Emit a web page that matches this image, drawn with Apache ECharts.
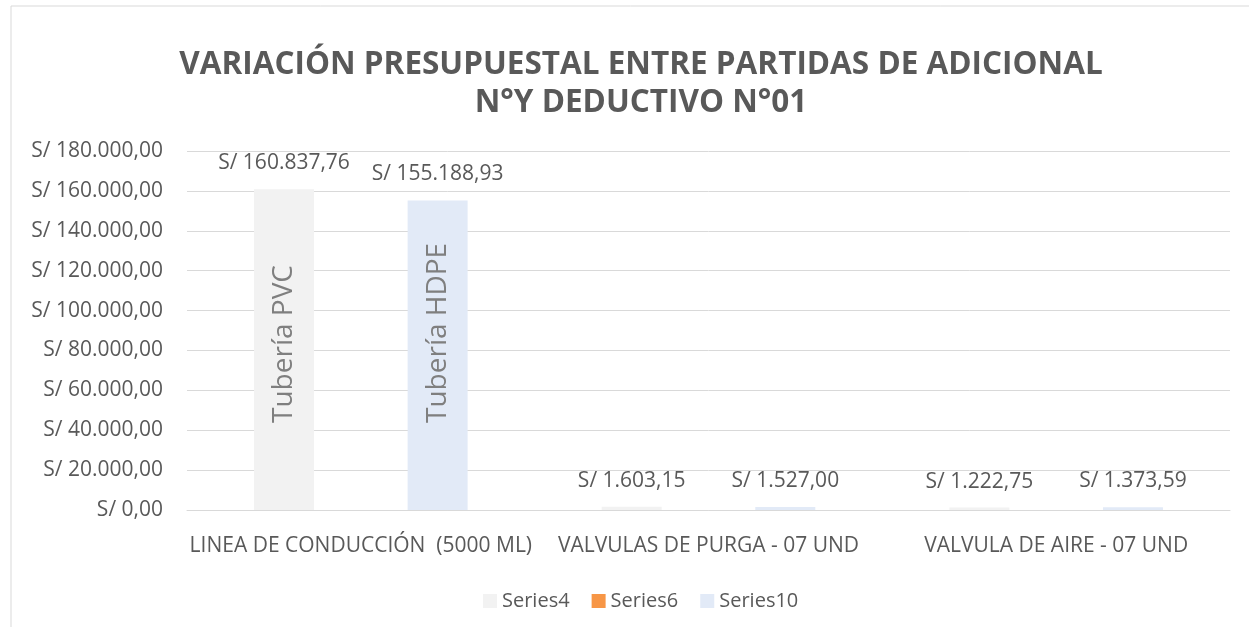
<!DOCTYPE html>
<html>
<head>
<meta charset="utf-8">
<script src="https://cdn.jsdelivr.net/npm/echarts@6/dist/echarts.min.js"></script>
<style>
html, body { margin: 0; padding: 0; background: #fff; }
#chart { width: 1249px; height: 627px; }
</style>
</head>
<body>
<div id="chart"></div>
<script>
var categories = ['LINEA DE CONDUCCIÓN  (5000 ML)', 'VALVULAS DE PURGA - 07 UND', 'VALVULA DE AIRE - 07 UND'];
var series4 = [160837.76, 1603.15, 1222.75];
var series6 = [0, 0, 0];
var series10 = [155188.93, 1527.00, 1373.59];
var insideLabels4 = ['Tubería PVC', '', ''];
var insideLabels10 = ['Tubería HDPE', '', ''];

var textColor = '#595959';
var font = '"Open Sans", sans-serif';

// S/ 160.837,76
function soles(v) {
	var parts = Number(v).toFixed(2).split('.');
	var ent = parts[0].replace(/\B(?=(\d{3})+(?!\d))/g, '.');
	return 'S/ ' + ent + ',' + parts[1];
}

var valueLabel = {
	show: true,
	position: 'top',
	distance: 15,
	color: textColor,
	fontFamily: font,
	fontSize: 21,
	lineHeight: 22,
	formatter: function (p) { return soles(p.value); }
};

function insideLabel(names) {
	return {
		show: true,
		position: 'insideBottom',
		distance: 87,
		rotate: 90,
		align: 'left',
		verticalAlign: 'middle',
		color: '#7f7f7f',
		fontFamily: font,
		fontSize: 28,
		formatter: function (p) { return names[p.dataIndex]; }
	};
}

var ghost = { color: 'rgba(0,0,0,0)' };

var chart = echarts.init(document.getElementById('chart'));
chart.setOption({
	animation: false,
	textStyle: { fontFamily: font },
	title: {
		text: 'VARIACIÓN PRESUPUESTAL ENTRE PARTIDAS DE ADICIONAL\nN°Y DEDUCTIVO N°01',
		left: 636,
		textAlign: 'center',
		top: 41,
		textStyle: {
			color: textColor,
			fontFamily: font,
			fontWeight: 'bold',
			fontSize: 31.5,
			lineHeight: 38
		}
	},
	graphic: [{
		type: 'rect',
		silent: true,
		shape: { x: 11, y: 6, width: 1400, height: 800 },
		style: { fill: 'none', stroke: '#d9d9d9', lineWidth: 1 }
	}],
	legend: {
		data: ['Series4', 'Series6', 'Series10'],
		left: 478,
		top: 586,
		itemWidth: 14,
		itemHeight: 14,
		itemGap: 22,
		icon: 'rect',
		textStyle: { color: textColor, fontFamily: font, fontSize: 20, lineHeight: 20 }
	},
	grid: { left: 187, right: 19, top: 151, bottom: 117 },
	xAxis: [{
		type: 'category',
		data: categories,
		axisTick: { show: false },
		axisLine: { lineStyle: { color: '#d9d9d9', width: 1 } },
		axisLabel: { color: textColor, fontFamily: font, fontSize: 21, margin: 26, interval: 0 }
	}, {
		type: 'category',
		data: categories,
		show: false
	}],
	yAxis: {
		type: 'value',
		min: 0,
		max: 180000,
		interval: 20000,
		axisLine: { show: false },
		axisTick: { show: false },
		splitLine: { lineStyle: { color: '#d9d9d9', width: 1 } },
		axisLabel: {
			color: textColor, fontFamily: font, fontSize: 21, margin: 24,
			formatter: function (v) { return soles(v); }
		}
	},
	series: [
		{ name: 'Series4', type: 'bar', data: series4, barWidth: 60, barGap: '28%',
			itemStyle: { color: '#f2f2f2' }, label: valueLabel },
		{ name: 'Series6', type: 'bar', data: series6, barWidth: 60, barGap: '28%',
			itemStyle: { color: '#f79646' } },
		{ name: 'Series10', type: 'bar', data: series10, barWidth: 60, barGap: '28%',
			itemStyle: { color: '#e2eaf7' }, label: valueLabel },
		// capas transparentes solo para los textos dentro de las barras
		{ name: 'g4', type: 'bar', xAxisIndex: 1, data: series4, barWidth: 60, barGap: '28%',
			itemStyle: ghost, silent: true, label: insideLabel(insideLabels4) },
		{ name: 'g6', type: 'bar', xAxisIndex: 1, data: series6, barWidth: 60, barGap: '28%',
			itemStyle: ghost, silent: true },
		{ name: 'g10', type: 'bar', xAxisIndex: 1, data: series10, barWidth: 60, barGap: '28%',
			itemStyle: ghost, silent: true, label: insideLabel(insideLabels10) }
	]
});
</script>
</body>
</html>
